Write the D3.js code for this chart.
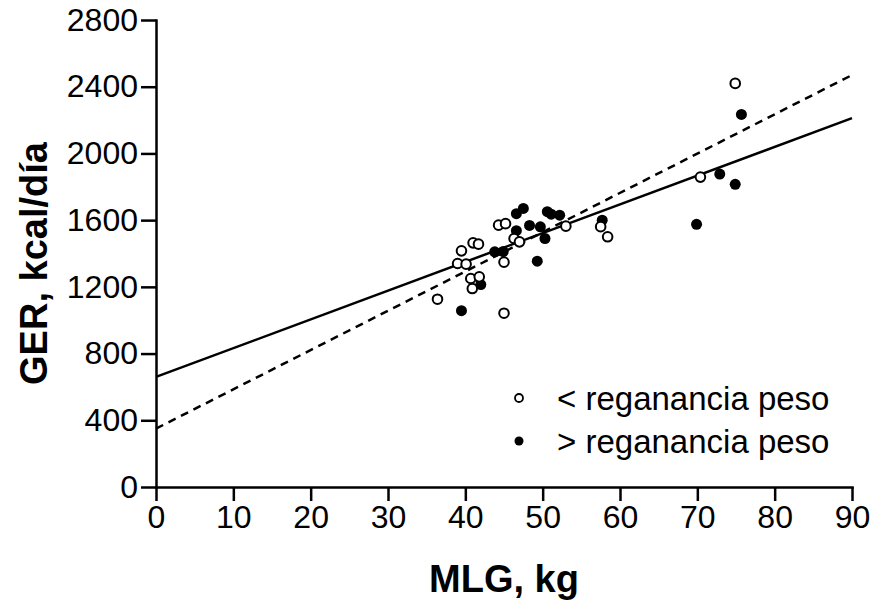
<!DOCTYPE html>
<html lang="es">
<head>
    <meta charset="UTF-8">
    <title>GER vs MLG</title>
    <style>
        body { margin: 0; background: #fff; }
        svg text { font-family: Arial, "Liberation Sans", sans-serif; fill: #000; }
        .axis path, .axis line { stroke: #000; stroke-width: 2.5px; }
        .axis text { font-size: 32px; }
        .fit { fill: none; stroke: #000; stroke-width: 2.5px; }
    </style>
    <script src="https://d3js.org/d3.v7.min.js"></script>
</head>
<body>
    <svg id="chart"></svg>

    <script>
        // < reganancia peso (open circles)
        const lowX = [36.4, 45.0, 40.9, 40.7, 41.8, 39.0, 40.1, 39.5, 41.0, 41.7,
                      45.0, 44.3, 45.2, 46.3, 47.0, 53.0, 57.5, 58.4, 70.4, 74.9];
        const lowY = [1126, 1042, 1190, 1250, 1260, 1340, 1336, 1416, 1464, 1456,
                      1348, 1570, 1579, 1490, 1470, 1564, 1561, 1500, 1858, 2420];

        // > reganancia peso (filled circles)
        const highX = [39.5, 42.0, 43.8, 44.9, 46.6, 47.5, 46.6, 48.3, 49.7, 50.3,
                       49.3, 50.6, 51.1, 52.2, 57.7, 69.9, 72.9, 74.9, 75.7];
        const highY = [1057, 1214, 1410, 1412, 1639, 1670, 1537, 1568, 1560, 1490,
                       1354, 1651, 1636, 1630, 1600, 1575, 1876, 1815, 2234];

        // regression lines, values at x = 0 and x = 90
        const fitX = [0, 90];
        const solidY = [660, 2212];
        const dashedY = [350, 2470];

        const xTicks = [0, 10, 20, 30, 40, 50, 60, 70, 80, 90];
        const yTicks = [0, 400, 800, 1200, 1600, 2000, 2400, 2800];

        const legendLabels = ["< reganancia peso", "> reganancia peso"];

        const width = 878, height = 608;
        const margin = {left: 156, right: 26, top: 20, bottom: 121};

        const svg = d3.select("#chart")
            .attr("width", width)
            .attr("height", height);

        const x = d3.scaleLinear().domain([0, 90]).range([margin.left, width - margin.right]);
        const y = d3.scaleLinear().domain([0, 2800]).range([height - margin.bottom, margin.top]);

        svg.append("g")
            .attr("class", "axis")
            .attr("transform", `translate(0,${y(0)})`)
            .call(d3.axisBottom(x).tickValues(xTicks).tickFormat(d3.format("d"))
                .tickSize(14).tickPadding(4).tickSizeOuter(0));

        svg.append("g")
            .attr("class", "axis")
            .attr("transform", `translate(${x(0)},0)`)
            .call(d3.axisLeft(y).tickValues(yTicks).tickFormat(d3.format("d"))
                .tickSize(15).tickPadding(3).tickSizeOuter(0));

        svg.selectAll(".axis path").attr("stroke-linecap", "square");

        // fitted lines
        const line = d3.line().x(d => x(d[0])).y(d => y(d[1]));
        svg.append("path")
            .attr("class", "fit")
            .attr("d", line(fitX.map((v, i) => [v, solidY[i]])));
        svg.append("path")
            .attr("class", "fit")
            .attr("stroke-dasharray", "8,6")
            .attr("d", line(fitX.map((v, i) => [v, dashedY[i]])));

        // points
        svg.append("g").selectAll("circle")
            .data(highX.map((v, i) => [v, highY[i]]))
            .join("circle")
            .attr("cx", d => x(d[0]))
            .attr("cy", d => y(d[1]))
            .attr("r", 5.5)
            .attr("fill", "#000");

        svg.append("g").selectAll("circle")
            .data(lowX.map((v, i) => [v, lowY[i]]))
            .join("circle")
            .attr("cx", d => x(d[0]))
            .attr("cy", d => y(d[1]))
            .attr("r", 4.8)
            .attr("fill", "#fff")
            .attr("stroke", "#000")
            .attr("stroke-width", 2);

        // legend
        const legend = svg.append("g").attr("transform", "translate(519,398)");
        legend.append("circle").attr("r", 4).attr("fill", "#fff")
            .attr("stroke", "#000").attr("stroke-width", 1.8);
        legend.append("circle").attr("cy", 43).attr("r", 4.5).attr("fill", "#000");
        legend.selectAll("text")
            .data(legendLabels)
            .join("text")
            .attr("x", 38)
            .attr("y", (d, i) => i * 43 + 12)
            .style("font-size", "33px")
            .text(d => d);

        // axis titles
        svg.append("text")
            .attr("x", x(45))
            .attr("y", 592)
            .attr("text-anchor", "middle")
            .style("font-size", "38px")
            .style("font-weight", "bold")
            .text("MLG, kg");

        svg.append("text")
            .attr("transform", `translate(47,${y(1340)}) rotate(-90)`)
            .attr("text-anchor", "middle")
            .style("font-size", "38px")
            .style("font-weight", "bold")
            .text("GER, kcal/día");
    </script>
</body>
</html>
